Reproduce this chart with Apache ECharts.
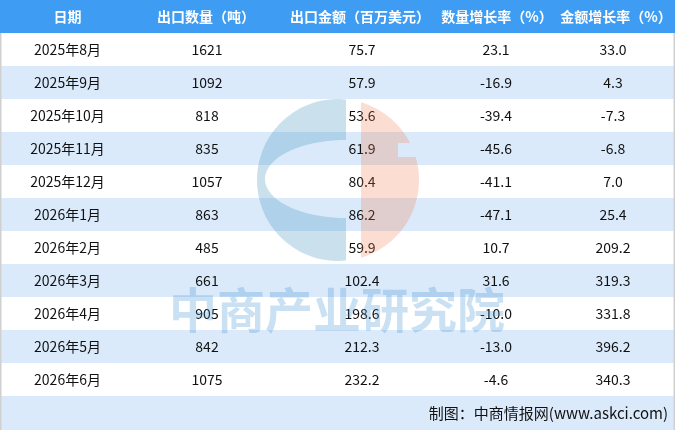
<!DOCTYPE html>
<html>
<head>
<meta charset="utf-8">
<script src="https://cdn.jsdelivr.net/npm/echarts@6/dist/echarts.min.js"></script>
<style>html,body{margin:0;padding:0;background:#fff}#c{width:675px;height:430px}</style>
</head>
<body>
<div id="c"></div>
<script>
const headers = ['日期', '出口数量（吨）', '出口金额（百万美元）', '数量增长率（%）', '金额增长率（%）'];
const dates = ['2025年8月','2025年9月','2025年10月','2025年11月','2025年12月','2026年1月','2026年2月','2026年3月','2026年4月','2026年5月','2026年6月'];
const qty = [1621, 1092, 818, 835, 1057, 863, 485, 661, 905, 842, 1075];
const amount = [75.7, 57.9, 53.6, 61.9, 80.4, 86.2, 59.9, 102.4, 198.6, 212.3, 232.2];
const qtyGrowth = [23.1, -16.9, -39.4, -45.6, -41.1, -47.1, 10.7, 31.6, -10.0, -13.0, -4.6];
const amtGrowth = [33.0, 4.3, -7.3, -6.8, 7.0, 25.4, 209.2, 319.3, 331.8, 396.2, 340.3];
const footer = '制图：中商情报网(www.askci.com)';
const watermark = '中商产业研究院';

const W = 675, H = 430;
const colCenters = [67.5, 207, 362, 496, 613];
const headCenters = [67.5, 206, 360, 497, 616];
const FONT = '"Noto Sans CJK SC", "Noto Sans", sans-serif';
const STRIPE = '#dbeafa';
const HEAD = '#3e9cf2';

const chart = echarts.init(document.getElementById('c'), null, {renderer: 'canvas'});

function cellTexts(i) {
  return [dates[i], String(qty[i]), amount[i].toFixed(1), qtyGrowth[i].toFixed(1), amtGrowth[i].toFixed(1)];
}

// watermark logo geometry (decoration)
const cx = 338, cy = 180, R = 81;
function bluePoly() {
  const pts = [];
  const xf = 346;
  const a0 = Math.acos((xf - cx) / R); // angle where x = xf
  // from top (angle -a0 measured with y down => use parametric)
  const n = 80;
  for (let k = 0; k <= n; k++) {
    const t = (-a0) - (2 * Math.PI - 2 * a0) * k / n; // go counter-clockwise through left side
    pts.push([cx + R * Math.cos(t), cy + R * Math.sin(t)]);
  }
  // now at bottom point (xf, cy + ...). go up flat edge to ellipse bottom
  const ecx = 346, ecy = 179, erx = 81, ery = 39;
  for (let k = 0; k <= n; k++) {
    const t = Math.PI / 2 + Math.PI * k / n;
    pts.push([ecx + erx * Math.cos(t), ecy + ery * Math.sin(t)]);
  }
  return pts;
}
function orangePoly() {
  const pts = [];
  const xs = 361;
  const a0 = Math.acos((xs - cx) / R);
  const n = 90;
  const notchTop = 143, notchBot = 157, notchX = 398;
  let inNotch = false;
  for (let k = 0; k <= n; k++) {
    const t = -a0 + 2 * a0 * k / n;
    const x = cx + R * Math.cos(t), y = cy + R * Math.sin(t);
    if (y > notchTop && y < notchBot) {
      if (!inNotch) {
        pts.push([cx + Math.sqrt(R * R - (notchTop - cy) ** 2), notchTop]);
        pts.push([notchX, notchTop]);
        pts.push([notchX, notchBot]);
        pts.push([cx + Math.sqrt(R * R - (notchBot - cy) ** 2), notchBot]);
        inNotch = true;
      }
      continue;
    }
    pts.push([x, y]);
  }
  return pts;
}

const graphics = [
  {type: 'rect', z: 1, shape: {x: 0, y: 0, width: W, height: 33}, style: {fill: HEAD}},
  {type: 'rect', z: 1, shape: {x: 0, y: 396, width: W, height: 34}, style: {fill: STRIPE}},
  {type: 'line', z: 50, shape: {x1: 0.75, y1: 33, x2: 0.75, y2: H}, style: {stroke: '#d0d0d0', lineWidth: 1.5}},
  {type: 'line', z: 50, shape: {x1: 674.25, y1: 33, x2: 674.25, y2: H}, style: {stroke: '#d0d0d0', lineWidth: 1.5}},
  {type: 'text', z: 2, x: 668, y: 413, style: {text: footer, textAlign: 'right', textVerticalAlign: 'middle', verticalAlign: 'middle', fontSize: 15, fontFamily: FONT, fill: '#111'}},
  {type: 'polygon', z: 100, shape: {points: bluePoly()}, style: {fill: 'rgba(60,145,190,0.27)'}},
  {type: 'polygon', z: 100, shape: {points: orangePoly()}, style: {fill: 'rgba(240,120,70,0.25)'}},
  {type: 'text', z: 100, x: 337, y: 310, style: {text: watermark, textAlign: 'center', textVerticalAlign: 'middle', verticalAlign: 'middle', fontSize: 48, fontWeight: 'bold', fontFamily: FONT, fill: 'rgba(60,145,210,0.27)'}}
];
headers.forEach((h, k) => {
  graphics.push({type: 'text', z: 2, x: headCenters[k], y: 17, style: {text: h, textAlign: 'center', textVerticalAlign: 'middle', verticalAlign: 'middle', fontSize: 14, fontWeight: 'bold', fontFamily: FONT, fill: '#fff'}});
});

chart.setOption({
  animation: false,
  grid: {left: 0, right: 0, top: 33, bottom: 34},
  xAxis: {type: 'value', min: 0, max: W, show: false},
  yAxis: {type: 'category', data: dates, inverse: true, show: false},
  series: [{
    type: 'custom',
    silent: true,
    z: 5,
    encode: {x: 0, y: 1},
    data: dates.map((d, i) => [0, i]),
    renderItem: function (params, api) {
      const i = params.dataIndex;
      const p = api.coord([0, i]);
      const h = api.size([0, 1])[1];
      const texts = cellTexts(i);
      const children = [{type: 'rect', shape: {x: 0, y: p[1] - h / 2, width: W, height: h}, style: {fill: i % 2 ? STRIPE : '#ffffff'}}];
      colCenters.forEach((c, k) => {
        children.push({type: 'text', x: api.coord([c, i])[0], y: p[1], style: {text: texts[k], textAlign: 'center', textVerticalAlign: 'middle', verticalAlign: 'middle', fontSize: 14, fontFamily: FONT, fill: '#111'}});
      });
      return {type: 'group', children: children};
    }
  }],
  graphic: graphics
});
</script>
</body>
</html>
